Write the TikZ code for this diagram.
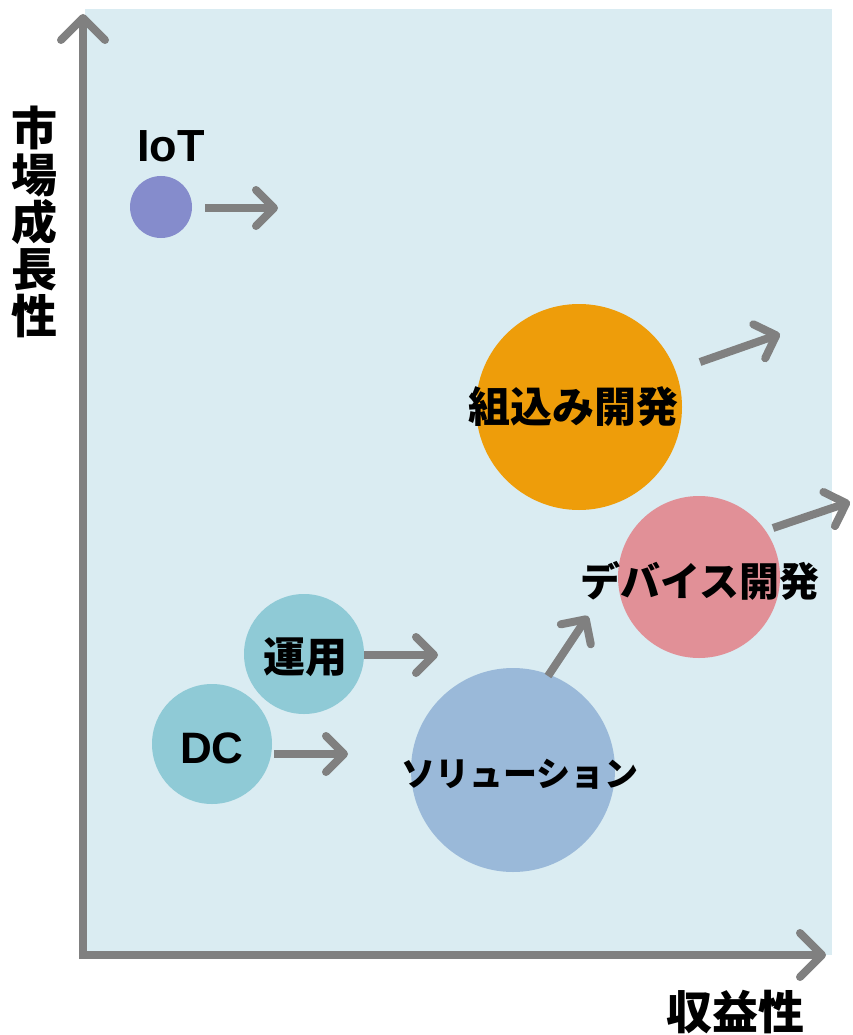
\documentclass[tikz,border=0pt]{standalone}
\usepackage{fontspec}
\newfontfamily\jp{Noto Sans CJK JP}
\newfontfamily\lat{Liberation Sans}
\usetikzlibrary{arrows.meta}
\definecolor{bgblue}{RGB}{218,236,242}
\definecolor{axgray}{RGB}{128,128,128}
\definecolor{iotc}{RGB}{133,140,204}
\definecolor{orangec}{RGB}{238,157,10}
\definecolor{pinkc}{RGB}{225,144,151}
\definecolor{solc}{RGB}{154,185,217}
\definecolor{tealc}{RGB}{143,202,214}
\tikzset{
  bubble/.style={circle, draw=none, inner sep=0pt},
  lbl/.style={font=\jp\bfseries\fontsize{42}{44}\selectfont, text=black, inner sep=0pt},
  mover/.style={draw=axgray, line width=8pt, line cap=butt,
    -{Straight Barb[length=18pt, width=36pt, line width=8pt, line cap=round, round]}},
  axis/.style={draw=axgray, line width=8pt,
    -{Straight Barb[length=22pt, width=44pt, line width=8pt, line cap=round, round]}}
}
\begin{document}
\begin{tikzpicture}[x=1pt,y=-1pt]
\useasboundingbox (0,0) rectangle (852,1035);
\fill[bgblue] (85,9) rectangle (832,955);
% axes
\coordinate (Ytip) at (83,14);
\coordinate (Xtip) at (826,955);
\draw[axis] (83,959) -- (Ytip);
\draw[axis] (79,955) -- (Xtip);
% bubbles
\node[bubble, fill=iotc, minimum size=62pt] (iot) at (161,207) {};
\node[lbl, font=\lat\bfseries\fontsize{45}{47}\selectfont] (iotl) at (171,146) {IoT};
\node[bubble, fill=orangec, minimum size=206pt] (emb) at (579,407) {};
\node[lbl] (embl) at (573,407) {組込み開発};
\node[bubble, fill=pinkc, minimum size=162pt] (dev) at (699,577) {};
\node[lbl, font=\jp\bfseries\fontsize{40}{42}\selectfont] (devl) at (700,581) {デバイス開発};
\node[bubble, fill=solc, minimum size=204pt] (sol) at (513,770) {};
\node[lbl, font=\jp\bfseries\fontsize{34}{36}\selectfont] (soll) at (520,774) {ソリューション};
\node[bubble, fill=tealc, minimum size=120pt] (ops) at (304,654) {};
\node[lbl] (opsl) at (305,657) {運用};
\node[bubble, fill=tealc, minimum size=120pt] (dc) at (212,744) {};
\node[lbl, font=\lat\bfseries\fontsize{44}{46}\selectfont] (dcl) at (212,748) {DC};
% movement arrows
\coordinate (a1s) at (205,208); \coordinate (a1e) at (278,208);
\coordinate (a2s) at (700,362); \coordinate (a2e) at (780,334);
\coordinate (a3s) at (773,528); \coordinate (a3e) at (850,502);
\coordinate (a4s) at (548,676); \coordinate (a4e) at (588,616);
\coordinate (a5s) at (364,655); \coordinate (a5e) at (438,655);
\coordinate (a6s) at (274,754); \coordinate (a6e) at (348,754);
\foreach \s/\e in {a1s/a1e,a2s/a2e,a3s/a3e,a4s/a4e,a5s/a5e,a6s/a6e}{
  \draw[mover] (\s) -- (\e);
}
% axis labels
\node[lbl, font=\jp\bfseries\fontsize{46}{47}\selectfont, align=center] (ylab) at (35,222)
  {市\\場\\成\\長\\性};
\node[lbl, font=\jp\bfseries\fontsize{46}{48}\selectfont] (xlab) at (735,1012) {収益性};
\end{tikzpicture}
\end{document}
